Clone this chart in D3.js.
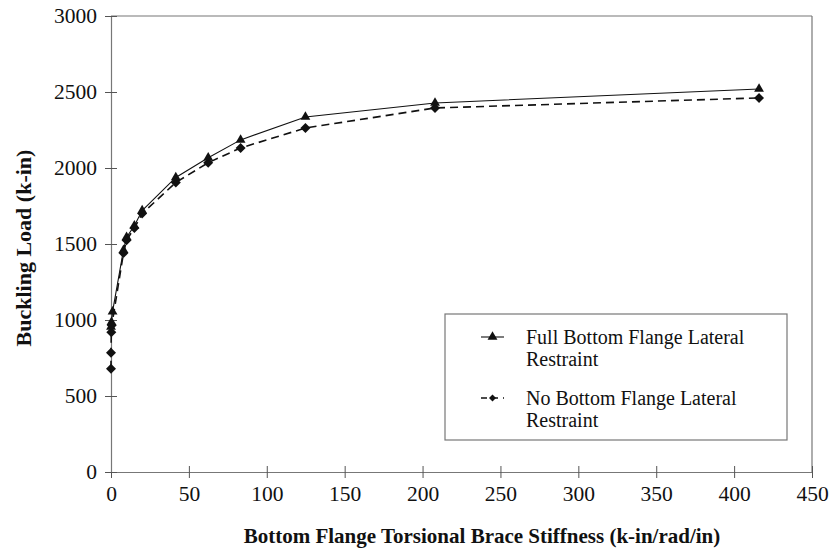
<!DOCTYPE html>
<html><head><meta charset="utf-8">
<script src="https://cdn.jsdelivr.net/npm/d3@7"></script>
<style>body{margin:0;background:#fff}</style>
</head><body>
<svg id="c" width="831" height="552"></svg>
<script>
const seriesNames = ["Full Bottom Flange Lateral Restraint", "No Bottom Flange Lateral Restraint"];
const fullX = [0, 0.3, 1, 8, 10, 15, 20, 41.6, 62.4, 83.2, 124.8, 208, 416];
const fullY = [955, 985, 1055, 1460, 1545, 1620, 1720, 1938, 2068, 2185, 2336, 2428, 2520];
const noX = [0, 0, 0.2, 0.5, 8, 10, 15, 20, 41.6, 62.4, 83.2, 124.8, 208, 416];
const noY = [680, 785, 920, 965, 1440, 1525, 1605, 1700, 1905, 2035, 2132, 2263, 2395, 2461];
const xTicks = [0, 50, 100, 150, 200, 250, 300, 350, 400, 450];
const yTicks = [0, 500, 1000, 1500, 2000, 2500, 3000];
const xTitle = "Bottom Flange Torsional Brace Stiffness (k-in/rad/in)";
const yTitle = "Buckling Load (k-in)";

const svg = d3.select("#c");
const L = 111, R = 812, T = 16, B = 472;
const x = d3.scaleLinear().domain([0, 450]).range([L, R]);
const y = d3.scaleLinear().domain([0, 3000]).range([B, T]);
const font = "'Liberation Serif','Times New Roman',serif";
const axCol = "#777";

// plot border (top & right)
svg.append("line").attr("x1", L).attr("x2", R).attr("y1", T).attr("y2", T).attr("stroke", axCol).attr("stroke-width", 1.2);
svg.append("line").attr("x1", R).attr("x2", R).attr("y1", T).attr("y2", B).attr("stroke", axCol).attr("stroke-width", 1.2);

// axes
const xAxis = svg.append("g").attr("transform", `translate(0,${B})`)
  .call(d3.axisBottom(x).tickValues(xTicks).tickSize(0).tickPadding(14).tickFormat(d3.format("d")));
const yAxis = svg.append("g").attr("transform", `translate(${L},0)`)
  .call(d3.axisLeft(y).tickValues(yTicks).tickSize(0).tickPadding(14).tickFormat(d3.format("d")));
[xAxis, yAxis].forEach(g => {
  g.select(".domain").attr("stroke", axCol).attr("stroke-width", 1.2);
  g.selectAll("text").attr("font-family", font).attr("font-size", 21.5).attr("fill", "#111");
});
// crossing ticks
xAxis.selectAll(".tick").append("line").attr("y1", -6).attr("y2", 6).attr("stroke", "#555");
yAxis.selectAll(".tick").append("line").attr("x1", -6).attr("x2", 6).attr("stroke", "#555");

// titles
svg.append("text").attr("x", 482).attr("y", 543).attr("text-anchor", "middle")
  .attr("font-family", font).attr("font-weight", "bold").attr("font-size", 21).attr("fill", "#111").text(xTitle);
svg.append("text").attr("transform", `translate(31,248) rotate(-90)`).attr("text-anchor", "middle")
  .attr("font-family", font).attr("font-weight", "bold").attr("font-size", 22).attr("fill", "#111").text(yTitle);

// lines
const fullData = fullX.map((v, i) => [v, fullY[i]]);
const noData = noX.map((v, i) => [v, noY[i]]);
const line = d3.line().x(d => x(d[0])).y(d => y(d[1]));
svg.append("path").datum(noData).attr("d", line).attr("fill", "none").attr("stroke", "#111")
  .attr("stroke-width", 1.6).attr("stroke-dasharray", "8,5");
svg.append("path").datum(fullData).attr("d", line).attr("fill", "none").attr("stroke", "#111")
  .attr("stroke-width", 1.1);

const tri = d3.symbol().type(d3.symbolTriangle).size(42);
const dia = "M0,-5L5,0L0,5L-5,0Z";
svg.selectAll(".pn").data(noData).enter().append("path")
  .attr("transform", d => `translate(${x(d[0])},${y(d[1])})`).attr("d", dia).attr("fill", "#111");
svg.selectAll(".pf").data(fullData).enter().append("path")
  .attr("transform", d => `translate(${x(d[0])},${y(d[1])})`).attr("d", tri).attr("fill", "#111");

// legend
const lg = svg.append("g");
lg.append("rect").attr("x", 445).attr("y", 314).attr("width", 342).attr("height", 126)
  .attr("fill", "#fff").attr("stroke", axCol).attr("stroke-width", 1.2);
const entries = [
  {name: seriesNames[0], y1: 337, dash: null, sym: tri()},
  {name: seriesNames[1], y1: 398, dash: "6,5", sym: "M0,-3.5L3.5,0L0,3.5L-3.5,0Z"}
];
entries.forEach(e => {
  lg.append("line").attr("x1", 481).attr("x2", 504).attr("y1", e.y1).attr("y2", e.y1)
    .attr("stroke", "#111").attr("stroke-width", e.dash ? 1.5 : 1.1).attr("stroke-dasharray", e.dash);
  lg.append("path").attr("transform", `translate(492.5,${e.y1})`).attr("d", e.sym).attr("fill", "#111");
  const words = e.name.split(" ");
  const t = lg.append("text").attr("font-family", font).attr("font-size", 20).attr("fill", "#111");
  t.append("tspan").attr("x", 526).attr("y", e.y1 + 7).text(words.slice(0, 4).join(" "));
  t.append("tspan").attr("x", 526).attr("y", e.y1 + 29).text(words.slice(4).join(" "));
});
</script>
</body></html>
